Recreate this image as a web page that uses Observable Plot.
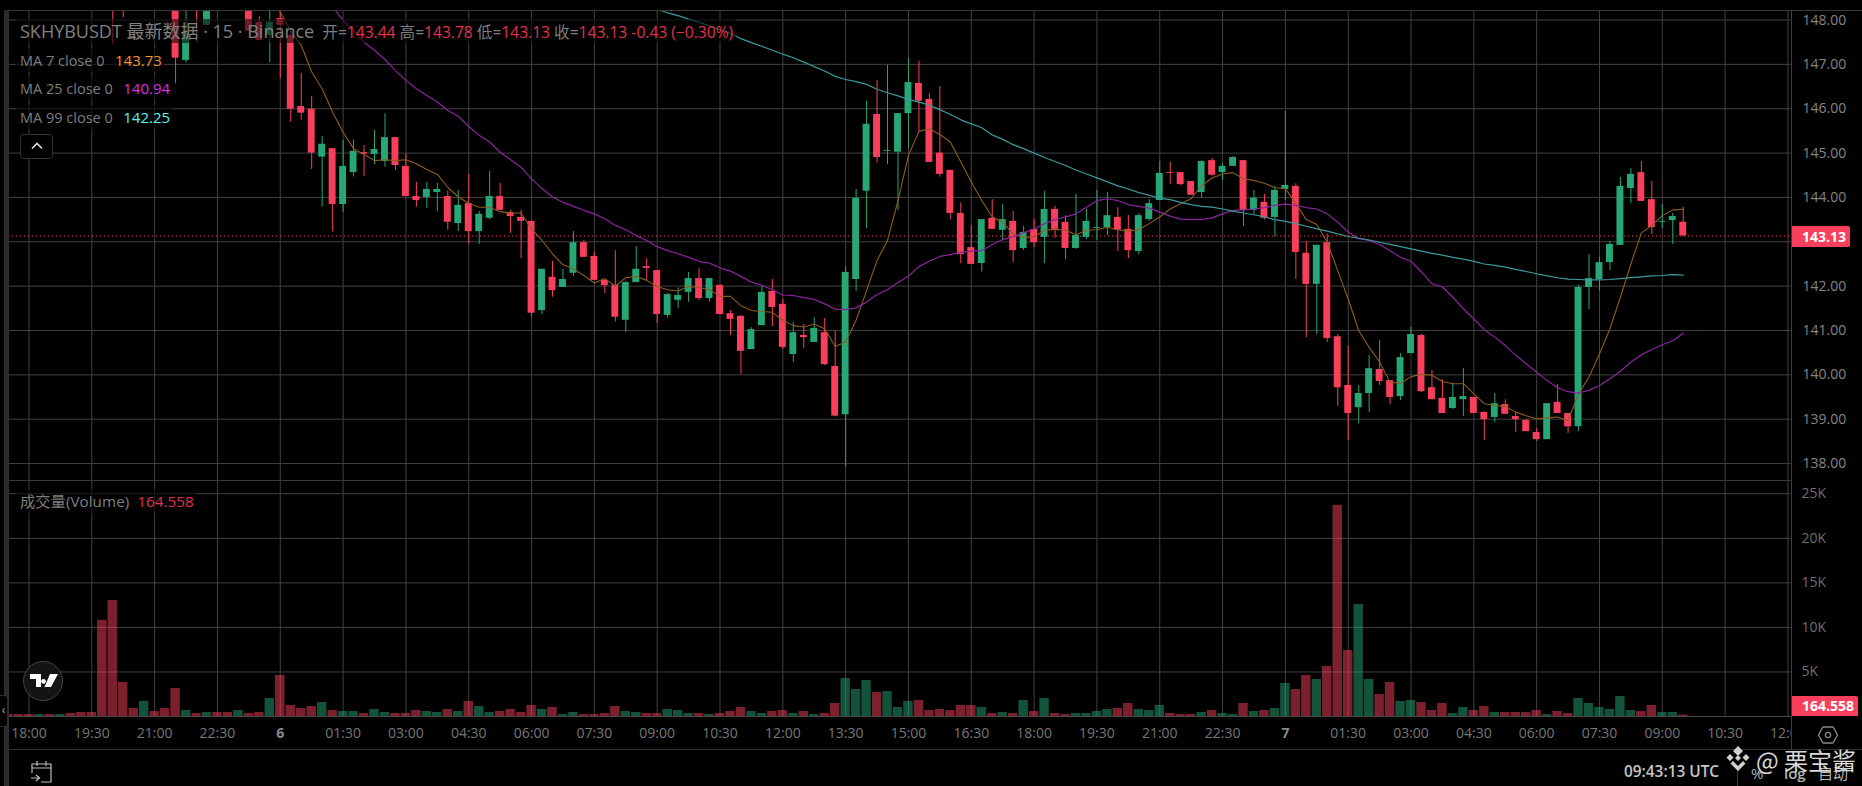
<!DOCTYPE html>
<html><head><meta charset="utf-8">
<script src="https://cdn.jsdelivr.net/npm/d3@7"></script>
<script src="https://cdn.jsdelivr.net/npm/@observablehq/plot@0.6"></script>
<style>
html,body{margin:0;padding:0;background:#000;}
#root{position:relative;width:1862px;height:786px;background:#000;overflow:hidden;font-family:"Open Sans","Noto Sans CJK SC",sans-serif;}
#root svg.plot{position:absolute;left:0;}
.ab{position:absolute;white-space:pre;}
.leg{position:absolute;white-space:pre;background:rgba(0,0,0,.55);font-size:14.5px;line-height:24px;height:24px;color:#7e7e7e;padding:0 3px 0 4px;}
.ln{position:absolute;background:#3a3a3a;}
</style></head><body><div id="root"></div>
<script>
// candle index 0 = 18:00, one candle every 15 minutes; off-chart candles are null
const firstCandle = 8;
const opens = [148.9,148.7,null,null,null,null,148.6,147.09,148.8,147.88,null,null,null,148.5,147.95,147.65,148.03,147.65,146.05,145.99,144.91,145.1,143.84,144.56,145.01,144.97,144.81,145.35,144.7,144.02,144.0,144.11,144.02,143.41,143.86,143.23,143.53,144.02,143.66,143.55,143.46,141.45,142.2,141.97,142.29,142.98,142.67,142.13,142.02,141.23,142.08,142.44,142.35,141.34,141.68,141.86,142.17,141.72,142.02,141.38,141.32,140.57,141.11,141.88,141.59,140.46,140.89,140.73,140.95,140.19,139.1,142.15,144.14,145.87,145.04,145.02,145.89,146.57,146.21,145.0,144.61,143.64,142.87,142.51,143.53,143.26,143.46,142.85,143.28,143.1,143.73,143.44,142.85,143.1,143.3,143.32,143.55,143.28,142.78,143.5,143.93,144.56,144.56,144.36,144.11,144.83,144.56,144.7,144.83,143.71,143.89,143.55,144.18,144.25,142.74,142.04,142.98,140.86,139.76,139.26,139.58,140.12,139.87,139.51,140.48,140.89,139.71,139.47,139.24,139.44,139.49,139.15,139.04,139.33,139.06,138.97,138.7,138.54,139.38,139.13,138.83,141.97,142.15,142.53,142.92,144.2,144.56,143.95,143.44,143.48,143.44];
const highs = [149.1,148.9,null,null,null,null,148.8,148.4,149,148.8,null,null,null,148.6,148.07,148.4,148.3,147.7,146.8,146.28,145.38,145.1,145.29,145.3,145.17,145.51,145.89,145.35,144.98,144.34,144.34,144.32,144.14,144.16,144.52,143.68,144.59,144.32,143.71,143.71,143.46,142.38,142.56,142.38,143.23,143.03,142.77,142.13,142.8,142.11,142.89,142.62,142.35,141.84,141.96,142.31,142.39,142.17,142.02,141.45,141.34,141.06,141.99,142.15,141.7,141.18,141.14,141.29,141.27,140.98,142.44,144.18,146.17,146.64,146.98,145.89,147.13,147.07,146.34,146.5,144.61,143.88,143.37,143.5,143.95,143.84,143.68,143.35,143.5,144.14,143.8,143.59,144.07,143.73,144.16,144.11,143.77,143.59,143.63,143.95,144.81,144.79,144.56,144.36,144.83,144.88,144.76,144.92,144.83,144.16,144.07,144.25,145.94,144.31,143.0,142.92,143.17,140.91,140.64,139.76,140.44,140.77,139.87,140.48,141.07,140.91,140.1,139.89,139.8,140.14,139.49,139.17,139.58,139.44,139.15,139.0,138.79,139.35,139.78,139.13,142.02,142.71,142.65,143.01,144.45,144.65,144.81,144.36,143.84,143.64,143.78];
const lows = [147.46,148.05,null,null,null,null,146.56,147.03,147.5,147.88,null,null,null,147.75,147.54,147.04,146.68,145.7,145.74,144.63,143.78,143.22,143.67,144.46,144.47,144.74,144.68,144.61,144.02,143.78,143.75,143.68,143.26,143.23,142.95,142.94,143.5,143.71,143.19,142.62,141.3,141.36,141.75,141.97,142.22,142.65,142.13,141.83,141.19,140.96,142.08,142.13,141.16,141.28,141.5,141.64,141.68,141.65,141.36,140.89,140.01,140.57,141.11,141.09,140.57,140.28,140.59,140.73,140.21,139.05,137.92,141.88,143.3,144.77,144.74,143.71,145.1,145.47,144.79,144.46,143.5,142.51,142.49,142.32,143.28,143.03,142.53,142.8,142.87,142.51,143.08,142.6,142.83,143.05,143.03,143.14,142.78,142.62,142.71,143.46,143.93,144.29,144.27,144.05,143.98,144.48,144.38,144.7,143.35,143.62,143.5,143.11,143.93,142.15,140.84,140.91,140.73,139.29,138.52,138.9,139.15,139.76,139.33,139.42,140.48,139.6,139.44,139.13,139.22,139.06,139.13,138.52,138.92,139.11,138.7,138.72,138.5,138.54,139.13,138.68,138.72,141.47,141.9,142.35,142.92,143.86,143.91,143.17,143.3,142.94,143.13];
const closes = [148.5,148.4,null,null,null,null,147.14,147.73,148.4,148.6,null,null,null,147.75,147.54,147.95,147.88,145.99,145.9,145.0,145.2,143.84,144.7,145.04,144.98,145.08,145.35,144.72,144.02,143.93,144.18,144.18,143.44,143.82,143.23,143.62,144.02,143.71,143.57,143.46,141.39,142.38,141.9,142.15,142.98,142.65,142.13,142.01,141.3,142.08,142.38,142.4,141.36,141.81,141.79,142.17,141.72,142.17,141.36,141.25,140.53,141.02,141.86,141.52,140.62,140.95,140.84,141.05,140.23,139.07,142.31,143.98,145.65,144.9,145.06,145.89,146.59,146.17,144.79,144.52,143.64,142.71,142.49,143.5,143.28,143.5,142.8,143.21,142.98,143.73,143.28,142.85,143.14,143.46,143.32,143.59,143.26,142.8,143.59,143.86,144.54,144.54,144.29,144.05,144.81,144.5,144.7,144.9,143.71,143.98,143.53,144.16,144.27,142.76,142.04,142.92,140.82,139.71,139.13,139.58,140.14,139.85,139.49,140.39,140.91,139.62,139.44,139.13,139.49,139.51,139.13,138.99,139.35,139.11,138.99,138.72,138.54,139.35,139.13,138.83,141.97,142.17,142.53,142.94,144.25,144.52,143.91,143.32,143.46,143.57,143.13];

// volume in thousands, from candle index -2
const firstVolume = -2;
const volumes = [.22,.22,.22,.22,.22,.22,.34,.45,.45,10.8,13.03,3.82,.9,1.69,.56,.9,3.15,.67,.34,.45,.45,.45,.67,.34,.45,2.02,4.61,1.24,.9,1.12,1.57,.67,.56,.56,.34,.79,.45,.34,.34,.67,.56,.45,.79,.56,1.69,1.12,.45,.56,.79,.45,1.24,.79,1.01,.22,.45,.22,.22,.34,1.12,.56,.45,.34,.34,.79,.67,.34,.34,.22,.34,.56,1.01,.56,.34,.56,.67,.34,.56,.22,.34,1.46,4.27,3.03,4.04,2.7,2.81,1.01,1.69,1.8,.67,.79,.67,1.24,1.24,1.01,.34,.45,.34,1.8,.56,2.02,.34,.22,.34,.34,.56,.79,.9,1.46,.79,.67,1.24,.34,.22,.22,.45,.67,.34,.22,1.46,.56,.67,.9,3.71,3.03,4.61,4.16,5.62,23.7,7.42,12.58,4.16,2.47,3.82,1.69,1.8,1.57,.67,1.46,.34,1.01,.67,1.12,.45,.45,.45,.45,.67,.22,.56,.34,2.02,1.46,1.01,.79,2.25,.67,.56,1.24,.45,.45,.165];
// candles above the visible range whose volume bar is green
const hiddenUpCandles = [1,3,11,20];

const ma7Start = 23;
const ma7 = [148.5,148.18,147.75,147.43,146.83,146.45,145.92,145.47,145.1,144.97,144.83,144.85,144.83,144.85,144.76,144.63,144.52,144.23,144.01,143.87,143.78,143.78,143.68,143.65,143.65,143.29,143.03,142.73,142.48,142.39,142.24,142.07,142.17,142.0,142.19,142.22,142.13,141.99,141.92,141.89,141.99,141.97,141.92,141.77,141.77,141.56,141.45,141.43,141.41,141.23,141.11,141.08,141.14,141.04,140.64,140.74,141.23,141.9,142.58,143.03,143.93,144.95,145.49,145.55,145.42,145.25,144.8,144.35,143.93,143.56,143.44,143.18,143.09,143.11,143.26,143.28,143.26,143.16,143.26,143.27,143.33,143.27,143.24,143.27,143.41,143.56,143.74,143.86,143.97,144.27,144.44,144.53,144.56,144.42,144.38,144.32,144.22,144.2,143.86,143.5,143.39,142.99,142.35,141.71,141.0,140.62,140.29,139.83,139.81,139.96,140.01,139.99,139.85,139.8,139.8,139.57,139.35,139.31,139.29,139.16,139.08,139.01,139.03,139.05,138.97,139.57,139.95,140.47,141.04,141.75,142.5,143.2,143.37,143.59,143.72,143.73];
const ma25Start = 29;
const ma25 = [148.3,147.99,147.77,147.5,147.32,147.11,146.86,146.64,146.45,146.3,146.15,145.96,145.83,145.6,145.4,145.25,145.02,144.85,144.68,144.42,144.2,144.01,143.89,143.8,143.71,143.63,143.52,143.37,143.27,143.14,143.03,142.89,142.8,142.73,142.65,142.56,142.52,142.41,142.34,142.22,142.09,142.02,141.92,141.8,141.79,141.74,141.7,141.6,141.48,141.47,141.51,141.64,141.81,141.92,142.08,142.23,142.44,142.56,142.67,142.71,142.76,142.79,142.8,142.94,143.05,143.11,143.2,143.29,143.41,143.5,143.56,143.63,143.78,143.93,143.97,143.93,143.84,143.8,143.76,143.67,143.58,143.51,143.5,143.5,143.54,143.63,143.71,143.72,143.74,143.77,143.82,143.85,143.82,143.77,143.74,143.63,143.44,143.22,143.07,143.03,142.94,142.8,142.65,142.56,142.32,142.05,141.98,141.75,141.49,141.26,141.02,140.85,140.66,140.44,140.25,140.06,139.87,139.71,139.62,139.59,139.65,139.76,139.91,140.08,140.29,140.45,140.57,140.68,140.77,140.94];
const ma99Start = 60;
const ma99 = [148.25,148.16,148.1,148.02,147.95,147.87,147.78,147.7,147.58,147.49,147.41,147.32,147.23,147.15,147.05,146.95,146.85,146.73,146.66,146.61,146.55,146.44,146.36,146.29,146.21,146.15,146.08,145.98,145.87,145.75,145.66,145.57,145.41,145.31,145.19,145.1,145.0,144.9,144.81,144.72,144.62,144.53,144.44,144.35,144.26,144.19,144.11,144.05,143.98,143.95,143.89,143.84,143.8,143.78,143.74,143.69,143.65,143.61,143.56,143.5,143.46,143.41,143.35,143.29,143.24,143.18,143.12,143.08,143.04,142.99,142.94,142.89,142.84,142.79,142.74,142.7,142.65,142.61,142.56,142.5,142.47,142.43,142.38,142.33,142.28,142.23,142.19,142.16,142.15,142.14,142.14,142.15,142.17,142.19,142.21,142.23,142.24,142.26,142.25];

const timeLabels = ["18:00","19:30","21:00","22:30","6","01:30","03:00","04:30","06:00","07:30","09:00","10:30","12:00","13:30","15:00","16:30","18:00","19:30","21:00","22:30","7","01:30","03:00","04:30","06:00","07:30","09:00","10:30","12:00"];
const priceTicks = [138,139,140,141,142,143,144,145,146,147,148];
const volumeTicks = [5,10,15,20,25];
const lastPrice = 143.13;

const RED="#f93f5c", GREEN="#27a676", GRID="#414141", AXIS="#858585";
const FONT='"Open Sans","Noto Sans CJK SC",sans-serif';
const xDomain=[-1.958,168.34];
const gridIdx=timeLabels.map((_,k)=>k*6);

const candles=opens.map((o,k)=>({i:k+firstCandle,o,h:highs[k],l:lows[k],c:closes[k]})).filter(d=>d.o!=null);
const bars=volumes.map((v,k)=>{
  const i=k+firstVolume, cd=candles.find(c=>c.i===i);
  const up=cd?cd.c>=cd.o:hiddenUpCandles.includes(i);
  return {i,v,color:up?GREEN:RED};
});
const series=(a,s)=>a.map((v,k)=>({i:k+s,v}));

const price=Plot.plot({
  width:1862,height:480,marginTop:10,marginBottom:0,marginLeft:8,marginRight:71,
  style:{background:"transparent",fontFamily:FONT,overflow:"visible"},
  x:{domain:xDomain,axis:null},
  y:{domain:[137.618,148.215],axis:null},
  marks:[
    Plot.gridX(gridIdx,{stroke:GRID,strokeOpacity:1}),
    Plot.gridY(priceTicks,{stroke:GRID,strokeOpacity:1}),
    Plot.ruleY([lastPrice],{stroke:RED,strokeDasharray:"1.2,2.8"}),
    Plot.ruleX(candles,{x:"i",y1:"l",y2:"h",stroke:d=>d.c>=d.o?GREEN:RED,clip:true}),
    Plot.rect(candles,{x1:d=>d.i-.33,x2:d=>d.i+.33,y1:"o",y2:"c",fill:d=>d.c>=d.o?GREEN:RED,clip:true}),
    Plot.line(series(ma7,ma7Start),{x:"i",y:"v",stroke:"#8f5d1d",strokeWidth:1.1,clip:true}),
    Plot.line(series(ma25,ma25Start),{x:"i",y:"v",stroke:"#8a259c",strokeWidth:1.2,clip:true}),
    Plot.line(series(ma99,ma99Start),{x:"i",y:"v",stroke:"#3b9a9c",strokeWidth:1.2,clip:true}),
    // the 143.00 label sits behind the last-price tag in the picture
    Plot.axisY(priceTicks.filter(t=>t!==143),{anchor:"right",label:null,tickSize:0,tickPadding:11,tickFormat:d=>d.toFixed(2),fontSize:14,fill:AXIS})
  ]
});
price.style.top="0px";

const volume=Plot.plot({
  width:1862,height:269,marginTop:0,marginBottom:33,marginLeft:8,marginRight:71,
  style:{background:"transparent",fontFamily:FONT,overflow:"visible"},
  x:{domain:xDomain,axis:null},
  y:{domain:[0,26.49],axis:null},
  marks:[
    Plot.gridX(gridIdx,{stroke:GRID,strokeOpacity:1}),
    Plot.gridY(volumeTicks,{stroke:GRID,strokeOpacity:1}),
    Plot.rect(bars,{x1:d=>d.i-.45,x2:d=>d.i+.45,y1:0,y2:"v",fill:"color",fillOpacity:.5,clip:true}),
    Plot.axisY(volumeTicks,{anchor:"right",label:null,tickSize:0,tickPadding:10,tickFormat:d=>d+"K",fontSize:14,fill:"#6f6f6f"}),
    Plot.axisX(gridIdx.filter(i=>timeLabels[i/6].includes(":")),{anchor:"bottom",label:null,tickSize:0,tickPadding:12,tickFormat:i=>timeLabels[i/6],fontSize:14,fill:"#777"}),
    Plot.axisX(gridIdx.filter(i=>!timeLabels[i/6].includes(":")),{anchor:"bottom",label:null,tickSize:0,tickPadding:12,tickFormat:i=>timeLabels[i/6],fontSize:14,fontWeight:"bold",fill:"#8a8a8a"})
  ]
});
volume.style.top="480px";

const root=document.getElementById("root");
root.append(price,volume);

function add(cls,css,html){const e=document.createElement("div");e.className=cls;e.style.cssText=css;if(html!=null)e.innerHTML=html;root.append(e);return e;}
// frame lines
add("ln","left:8px;top:10px;width:1854px;height:1px");
add("ln","left:8px;top:480px;width:1783px;height:1px");
add("ln","left:8px;top:716px;width:1783px;height:1px;background:#4a4a4a");
add("ln","left:8px;top:749px;width:1854px;height:1px;background:#333");
add("ln","left:1791px;top:10px;width:1px;height:739px;background:#3d3d3d");
add("ln","left:4px;top:10px;width:5px;height:776px;background:#2c2c2c");
// clipping of the last time label
add("ab","left:1792px;top:717px;width:70px;height:32px;background:#000");

// legend
const P=n=>`<span style="color:#e0324c">${n}</span>`;
add("leg","left:16px;top:19px;font-size:15.6px",`<span style="font-size:18px;color:#808080">SKHYBUSDT 最新数据 · 15 · Binance</span>  开=${P("143.44")} 高=${P("143.78")} 低=${P("143.13")} 收=${P("143.13")} ${P("-0.43 (−0.30%)")}`);
const V=(n,c)=>`<span style="color:${c};font-size:15px;margin-left:3px">${n}</span>`;
add("leg","left:16px;top:48px",`MA 7 close 0  ${V("143.73","#f0962e")}`);
add("leg","left:16px;top:76px",`MA 25 close 0  ${V("140.94","#d930ea")}`);
add("leg","left:16px;top:105px",`MA 99 close 0  ${V("142.25","#5ff0f0")}`);
add("ab","left:20px;top:134px;width:31px;height:23px;border:1px solid #333;border-radius:4px;background:#000;color:#ddd;text-align:center;font-size:14px;line-height:24px",`<svg width="12" height="8" viewBox="0 0 12 8" style="margin-top:7px;display:block;margin-left:10px"><path d="M1 6.5 L6 1.5 L11 6.5" fill="none" stroke="#ddd" stroke-width="1.6"/></svg>`);
add("leg","left:16px;top:489px;font-size:15.3px",`成交量(Volume)  ${P("164.558")}`);

// price tags
add("ab",`left:1792px;top:226px;width:48px;height:21px;padding-left:10px;background:${RED};color:#fff;font-weight:700;font-size:14px;line-height:21px;border-radius:0 2px 2px 0`,"143.13");
add("ab",`left:1792px;top:696px;width:56px;height:20px;padding-left:10px;background:${RED};color:#fff;font-weight:700;font-size:14px;line-height:20px;border-radius:0 2px 0 0`,"164.558");

// settings icon
add("ab","left:1817px;top:724px",`<svg width="22" height="22" viewBox="0 0 22 22"><path d="M6 3H16L20.5 11L16 19H6L1.5 11Z" fill="none" stroke="#888" stroke-width="1.3"/><circle cx="11" cy="11" r="2.6" fill="none" stroke="#888" stroke-width="1.3"/></svg>`);

// tradingview badge
add("ab","left:23px;top:661px;width:38px;height:38px;border:1px solid #444;border-radius:50%;background:#141414",`<svg width="28" height="16" viewBox="0 0 28 16" style="position:absolute;left:6px;top:11px"><path d="M0 1H11V14H6V6H0Z M13.5 6a2.4 2.4 0 1 0 .01 0Z M20 1H28L21 14H14.5Z" fill="#fff"/></svg>`);
// collapse handle
add("ab","left:0;top:695px;width:7px;height:30px;background:#000;border:1px solid #2c2c2c;border-left:0;border-radius:0 4px 4px 0;color:#aaa;font-size:12px;line-height:28px;text-align:center","‹");
// calendar icon
add("ab","left:30px;top:760px",`<svg width="24" height="24" viewBox="0 0 24 24" fill="none" stroke="#bbb" stroke-width="1.2"><path d="M2 13V4H21V22H11M2 8H21M7 1V6M16 1V6M1 18H9M6 15L9.5 18L6 21"/></svg>`);

// footer
add("ab","left:1624px;top:761px;color:#c6c6c6;font-weight:600;font-size:15.4px;line-height:22px","09:43:13 UTC");
add("ln","left:1737px;top:770px;width:1px;height:16px;background:#3a3a3a");
add("ab","left:1751px;top:762px;color:#b5b5b5;font-size:15px;line-height:22px","%");
add("ab","left:1784px;top:762px;color:#b5b5b5;font-size:15px;font-weight:600;line-height:22px","log");
add("ab","left:1818px;top:762px;color:#b5b5b5;font-size:15px;line-height:22px","自动");
// watermark
add("ab","left:1724px;top:745px",`<svg width="28" height="28" viewBox="0 0 28 28" fill="#cfcfcf"><path d="M14 1l5 5-5 5-5-5z M6 9l3.5 3.5L6 16 2.5 12.5z M22 9l3.5 3.5L22 16l-3.5-3.5z M14 10l3 3-3 3-3-3z M9 16l5 5 5-5 2.5 2.5L14 26 6.5 18.5z"/></svg>`);
add("ab","left:1756px;top:746px;color:#d8d8d8;font-size:24px;line-height:28px;font-family:'Noto Sans CJK SC',sans-serif","@ 栗宝酱");
</script></body></html>
